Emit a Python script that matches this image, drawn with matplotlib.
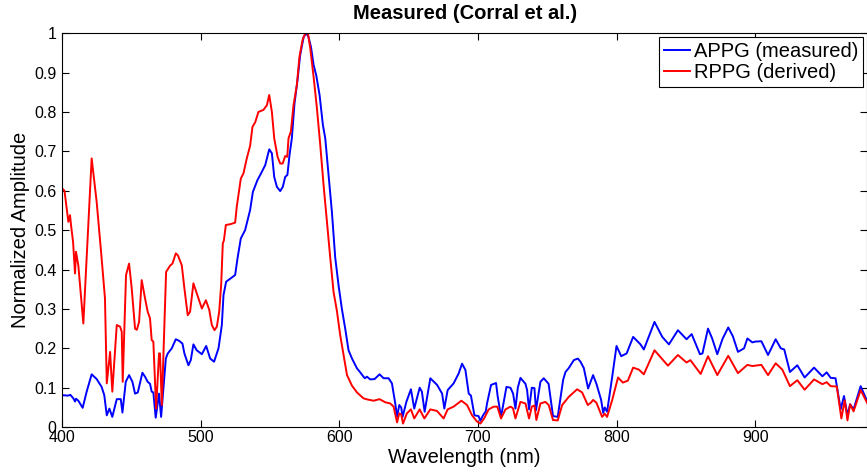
import numpy as np
import matplotlib
matplotlib.use("Agg")
import matplotlib.pyplot as plt

# =====================================================
# DADOS
# =====================================================
appg_wl = [
    400, 404.6, 406, 408.2, 409.4, 410.1, 411.8, 414.9, 417.8, 421.4, 425, 428.6,
    430.5, 432.3, 434.2, 436.3, 439.5, 442.4, 443.6, 446, 448.4, 450.8, 452.7,
    454.7, 458, 459.9, 461.8, 463.5, 464.7, 465.9, 467.6, 470, 471.5, 474.9,
    476.3, 479.2, 482.1, 484.5, 486.9, 488.3, 491.2, 492.9, 494.8, 497.2, 500.9,
    504, 506.9, 509.7, 512.9, 515.3, 516.5, 518.4, 524.9, 526.6, 529, 532.1,
    535.7, 537.7, 541, 543, 546.6, 549.5, 551.4, 553.1, 555, 557.4, 559.3, 561,
    562.6, 564.1, 565.8, 567.7, 569.9, 571.8, 574.3, 576.2, 577.8, 579.6, 581.5,
    583.4, 585.8, 588.2, 589.9, 592.3, 594.7, 597.1, 599.5, 601.9, 604.3, 606.7,
    609.2, 612.8, 614.9, 617.5, 618.5, 620, 622.4, 625.5, 629.1, 632, 635.6, 638,
    640.4, 641.7, 643.3, 644.7, 645.7, 648.4, 651.7, 654.1, 658, 659.6, 661.6,
    665.7, 670.6, 674.2, 675.8, 678.2, 682.5, 686.1, 688.6, 691, 693.4, 695,
    697.5, 700.5, 701.8, 703.7, 705.7, 706.6, 709.5, 713.1, 714.2, 716.7, 720.6,
    723.5, 725.4, 727.1, 728.8, 730.7, 734.3, 735.5, 736.9, 738.9, 740.8, 741.9,
    745.1, 747.5, 751, 754.2, 757.6, 761.5, 763.2, 765.6, 769.2, 772.1, 774,
    776.4, 779.5, 783.1, 785.5, 788.9, 790.4, 791.5, 793.2, 796.9, 800, 803.4,
    807.3, 812, 814.5, 817.3, 819.7, 827.4, 833, 837.8, 844.3, 850.5, 854.2,
    860.2, 862, 866, 869, 872.7, 876.6, 880.6, 884, 887.6, 892, 894.4, 898, 900,
    904.5, 909.3, 914.8, 918.5, 921, 925.1, 930.4, 935.7, 942.5, 948.5, 951.6,
    954.5, 958, 961.7, 964.1, 966.6, 968.5, 971, 976.1, 981,
]
appg_amp = [
    0.081, 0.080, 0.082, 0.073, 0.065, 0.072, 0.067, 0.049, 0.090, 0.134, 0.122,
    0.102, 0.081, 0.030, 0.047, 0.026, 0.071, 0.071, 0.037, 0.115, 0.132, 0.115,
    0.085, 0.088, 0.138, 0.128, 0.115, 0.110, 0.090, 0.088, 0.024, 0.085, 0.026,
    0.174, 0.187, 0.200, 0.223, 0.219, 0.212, 0.187, 0.157, 0.170, 0.210, 0.195,
    0.185, 0.206, 0.174, 0.166, 0.200, 0.259, 0.335, 0.369, 0.386, 0.428, 0.479,
    0.500, 0.551, 0.597, 0.627, 0.640, 0.665, 0.705, 0.695, 0.635, 0.610, 0.599,
    0.610, 0.635, 0.640, 0.690, 0.733, 0.821, 0.881, 0.944, 0.990, 1.000, 0.990,
    0.965, 0.919, 0.893, 0.843, 0.767, 0.733, 0.640, 0.546, 0.430, 0.360, 0.300,
    0.250, 0.195, 0.174, 0.149, 0.140, 0.128, 0.124, 0.128, 0.121, 0.122, 0.134,
    0.124, 0.124, 0.111, 0.060, 0.026, 0.056, 0.050, 0.026, 0.064, 0.096, 0.047,
    0.100, 0.090, 0.039, 0.124, 0.107, 0.085, 0.047, 0.094, 0.111, 0.136, 0.161,
    0.145, 0.085, 0.080, 0.030, 0.028, 0.016, 0.030, 0.040, 0.060, 0.107, 0.112,
    0.080, 0.026, 0.102, 0.100, 0.085, 0.047, 0.100, 0.125, 0.110, 0.094, 0.045,
    0.100, 0.099, 0.043, 0.115, 0.124, 0.110, 0.028, 0.026, 0.120, 0.140, 0.150,
    0.170, 0.174, 0.166, 0.150, 0.098, 0.132, 0.110, 0.069, 0.036, 0.050, 0.039,
    0.128, 0.206, 0.180, 0.187, 0.229, 0.220, 0.210, 0.197, 0.267, 0.229, 0.210,
    0.246, 0.223, 0.236, 0.185, 0.187, 0.250, 0.225, 0.185, 0.225, 0.253, 0.230,
    0.191, 0.200, 0.225, 0.215, 0.217, 0.218, 0.183, 0.223, 0.200, 0.197, 0.140,
    0.157, 0.126, 0.151, 0.129, 0.139, 0.125, 0.124, 0.045, 0.079, 0.030, 0.058,
    0.045, 0.104, 0.064,
]

rppg_wl = [
    400, 401.8, 404.6, 405.8, 406.5, 408, 409.4, 410.1, 411.8, 415.4, 421.4, 425,
    428.6, 431, 432.3, 434.7, 436.3, 439.5, 441.9, 443.1, 443.8, 446.2, 448.4,
    450.3, 452.7, 454, 455.6, 457.5, 459.9, 461.8, 463.5, 464.7, 465.9, 467.9,
    470, 470.7, 472, 475.1, 478, 479.7, 482.1, 483.6, 486.4, 488.3, 490.7, 492.4,
    494.8, 497.2, 500.9, 503.8, 506.2, 508.1, 510, 511.7, 513.4, 514.8, 516,
    516.8, 518.2, 521.4, 524.9, 526.1, 529, 530.9, 533.3, 535.7, 537.4, 539.4,
    541.7, 545.3, 547.8, 549.5, 551.4, 553.1, 555.5, 557.4, 559.2, 561, 562.5,
    563.4, 565.1, 567, 569.4, 571.3, 573.5, 575.5, 577.4, 579.1, 581.5, 583.9,
    586.3, 588.7, 591.1, 593.5, 595.9, 598.3, 600.7, 603.1, 605.6, 609.2, 612.8,
    617.5, 620.5, 624.8, 629.1, 633.2, 636.8, 639.2, 641.7, 643.3, 644.7, 646,
    648.8, 651.7, 654.1, 658, 661.4, 665.7, 670.5, 675.3, 678.2, 682.5, 688.1,
    692.2, 695.8, 699.4, 701.8, 704.5, 707.8, 711.4, 714, 716.7, 719.9, 723.5,
    725.3, 727.1, 730.7, 734.3, 736.9, 738.9, 740.8, 742.2, 745.1, 748.7, 751.1,
    754.2, 757.6, 760.8, 765.6, 771.6, 775.2, 779.3, 781.5, 783.1, 785.5, 789.6,
    791.5, 793.2, 796.9, 801.1, 804.6, 808.2, 812, 816.1, 819.7, 827.4, 837.1,
    844.3, 850.5, 853.3, 860.7, 866, 872.7, 880.6, 887.6, 894.4, 898, 904.5,
    909.3, 914.8, 919.6, 925.1, 930.4, 935.7, 942.5, 948.5, 951.6, 954.5, 958.9,
    962.2, 964.6, 966.6, 968.5, 971, 976.1, 981,
]
rppg_amp = [
    0.606, 0.600, 0.521, 0.538, 0.513, 0.470, 0.390, 0.445, 0.410, 0.263, 0.682,
    0.572, 0.428, 0.327, 0.111, 0.191, 0.090, 0.259, 0.255, 0.242, 0.115, 0.386,
    0.415, 0.352, 0.250, 0.247, 0.267, 0.373, 0.327, 0.293, 0.276, 0.221, 0.217,
    0.047, 0.187, 0.187, 0.056, 0.394, 0.410, 0.415, 0.441, 0.436, 0.411, 0.352,
    0.284, 0.293, 0.365, 0.340, 0.301, 0.322, 0.298, 0.259, 0.246, 0.255, 0.293,
    0.360, 0.466, 0.474, 0.513, 0.515, 0.519, 0.560, 0.631, 0.644, 0.682, 0.714,
    0.762, 0.774, 0.800, 0.805, 0.817, 0.843, 0.800, 0.733, 0.686, 0.669, 0.669,
    0.688, 0.686, 0.733, 0.750, 0.817, 0.868, 0.940, 0.982, 1.000, 1.000, 0.961,
    0.889, 0.809, 0.716, 0.614, 0.521, 0.430, 0.343, 0.295, 0.233, 0.183, 0.132,
    0.105, 0.088, 0.073, 0.070, 0.067, 0.071, 0.063, 0.060, 0.052, 0.012, 0.035,
    0.032, 0.009, 0.035, 0.045, 0.022, 0.045, 0.022, 0.045, 0.041, 0.022, 0.045,
    0.052, 0.067, 0.056, 0.030, 0.014, 0.009, 0.022, 0.045, 0.052, 0.052, 0.022,
    0.045, 0.052, 0.048, 0.022, 0.064, 0.060, 0.022, 0.052, 0.055, 0.018, 0.060,
    0.064, 0.056, 0.018, 0.017, 0.056, 0.077, 0.096, 0.088, 0.056, 0.062, 0.069,
    0.062, 0.026, 0.034, 0.026, 0.069, 0.126, 0.113, 0.118, 0.151, 0.146, 0.134,
    0.195, 0.156, 0.183, 0.164, 0.170, 0.135, 0.180, 0.132, 0.181, 0.137, 0.158,
    0.155, 0.158, 0.132, 0.162, 0.146, 0.104, 0.119, 0.095, 0.121, 0.109, 0.114,
    0.104, 0.103, 0.022, 0.068, 0.017, 0.058, 0.040, 0.094, 0.060,
]

labels = ["APPG (measured)", "RPPG (derived)"]
title = "Measured (Corral et al.)"
x_ticks = [400, 500, 600, 700, 800, 900]
y_ticks = [0, 0.1, 0.2, 0.3, 0.4, 0.5, 0.6, 0.7, 0.8, 0.9, 1]
y_tick_labels = ["0", "0.1", "0.2", "0.3", "0.4", "0.5", "0.6", "0.7", "0.8", "0.9", "1"]

# =====================================================
# FIGURA
# =====================================================
plt.rcParams["font.family"] = ["Liberation Sans", "DejaVu Sans"]

fig = plt.figure(figsize=(8.67, 4.73), dpi=100)
ax = fig.add_axes([0.0715, 0.097, 0.929, 0.833])

ax.plot(appg_wl, appg_amp, color="#0000ff", lw=1.4, label=labels[0])
ax.plot(rppg_wl, rppg_amp, color="#ff0000", lw=1.4, label=labels[1])

ax.set_xlim(400, 981)
ax.set_ylim(0, 1)
ax.set_xticks(x_ticks)
ax.set_yticks(y_ticks)
ax.set_yticklabels(y_tick_labels)
ax.tick_params(direction="in", top=True, right=True, length=5, labelsize=11.5)
ax.tick_params(axis="x", pad=2)
ax.tick_params(axis="y", pad=4)

ax.set_xlabel("Wavelength (nm)", fontsize=14.5, labelpad=2)
ax.set_ylabel("Normalized Amplitude", fontsize=14.5, labelpad=3)
ax.set_title(title, fontsize=14.5, fontweight="bold", pad=10)

leg = ax.legend(loc="upper right", fontsize=14.5, frameon=True, fancybox=False,
                handlelength=1.3, handletextpad=0.2, borderpad=0.25,
                labelspacing=0.1, borderaxespad=0.2)
leg.get_frame().set_edgecolor("black")
leg.get_frame().set_linewidth(0.8)
leg.get_frame().set_alpha(1)

fig.savefig("out.png", dpi=100)
plt.close(fig)
